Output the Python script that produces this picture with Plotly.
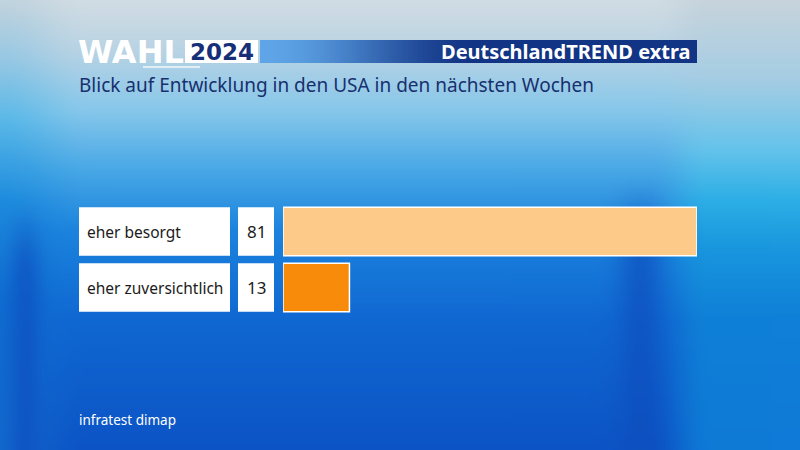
import plotly.graph_objects as go
import zlib, struct, base64, math

# ---------------- data ----------------
categories = ["eher besorgt", "eher zuversichtlich"]
values = [81, 13]
bar_colors = ["#fdca8a", "#f98b0a"]
brand_text = "WAHL"
year_text = "2024"
series_text = "DeutschlandTREND extra"
subtitle_text = "Blick auf Entwicklung in den USA in den nächsten Wochen"
source_text = "infratest dimap"

W, H = 800, 450
FONT = "Noto Sans"
HEAVY = "DejaVu Sans"


# ---------------- background helpers ----------------
def make_png(w, h, fn):
    raw = bytearray()
    for y in range(h):
        raw.append(0)
        for x in range(w):
            r, g, b = fn(x, y)
            raw += bytes((max(0, min(255, int(r))), max(0, min(255, int(g))), max(0, min(255, int(b)))))

    def chunk(t, d):
        c = struct.pack(">I", len(d)) + t + d
        return c + struct.pack(">I", zlib.crc32(t + d) & 0xFFFFFFFF)

    png = (b"\x89PNG\r\n\x1a\n"
           + chunk(b"IHDR", struct.pack(">IIBBBBB", w, h, 8, 2, 0, 0, 0))
           + chunk(b"IDAT", zlib.compress(bytes(raw), 9))
           + chunk(b"IEND", b""))
    return "data:image/png;base64," + base64.b64encode(png).decode()


def prof(p, t):
    if t <= p[0][0]:
        return p[0][1]
    for (t0, c0), (t1, c1) in zip(p[:-1], p[1:]):
        if t <= t1:
            f = (t - t0) / (t1 - t0)
            return tuple(a + (b - a) * f for a, b in zip(c0, c1))
    return p[-1][1]


def smooth(a, b, x):
    t = max(0.0, min(1.0, (x - a) / (b - a)))
    return t * t * (3 - 2 * t)


def mix(c1, c2, f):
    return tuple(a + (b - a) * f for a, b in zip(c1, c2))


center_p = [(0, (210, 221, 227)), (50, (186, 212, 228)), (110, (135, 200, 235)),
            (170, (72, 168, 230)), (230, (28, 132, 222)), (320, (16, 104, 210)), (450, (12, 84, 198))]
right_p = [(0, (200, 212, 220)), (80, (165, 205, 228)), (150, (100, 195, 235)),
           (200, (45, 175, 230)), (250, (25, 150, 222)), (320, (15, 128, 215)), (450, (15, 122, 215))]
left_p = [(0, (195, 212, 222)), (60, (150, 200, 228)), (120, (90, 185, 232)),
          (200, (30, 140, 222)), (300, (15, 110, 210)), (450, (18, 105, 205))]

S = 5


def bg(ix, iy):
    x = ix * S + S / 2
    y = iy * S + S / 2
    c = prof(center_p, y)
    wr = smooth(650, 710, x)
    c = mix(c, prof(right_p, y), wr)
    wl = 1 - smooth(0, 90, x)
    c = mix(c, prof(left_p, y), wl)
    d = math.exp(-((x - 640) / 22) ** 2) * smooth(170, 260, y) * 0.65
    c = mix(c, (14, 78, 190), d)
    d2 = math.exp(-((x - 25) / 16) ** 2) * smooth(190, 280, y) * 0.65
    c = mix(c, (14, 78, 192), d2)
    return c


bg_uri = make_png(W // S, H // S, bg)

header_uri = make_png(88, 1, lambda ix, iy: mix((95, 165, 232), (18, 52, 132), smooth(0, 45, ix)))

# ---------------- figure ----------------
fig = go.Figure()
fig.add_trace(go.Bar(
    x=values, y=categories, orientation="h",
    marker=dict(color=bar_colors, line=dict(color="white", width=1.5)),
    hoverinfo="skip",
))

px = lambda v: v / W
py = lambda v: 1 - v / H

shapes = []
annotations = []
for i, (cat, val) in enumerate(zip(categories, values)):
    shapes.append(dict(type="rect", xref="paper", yref="y", x0=px(79), x1=px(230),
                       y0=i - 0.433, y1=i + 0.433, fillcolor="white", line=dict(width=0), layer="below"))
    shapes.append(dict(type="rect", xref="paper", yref="y", x0=px(238), x1=px(274),
                       y0=i - 0.433, y1=i + 0.433, fillcolor="white", line=dict(width=0), layer="below"))
    annotations.append(dict(text=cat, xref="paper", yref="y", x=px(85), y=i, xanchor="left",
                            yanchor="middle", showarrow=False, font=dict(family=FONT, size=15.5, color="#1b1b1b")))
    annotations.append(dict(text=str(val), xref="paper", yref="y", x=px(256), y=i, xanchor="center",
                            yanchor="middle", showarrow=False, font=dict(family=FONT, size=17, color="#1b1b1b")))

# header
shapes.append(dict(type="rect", xref="paper", yref="paper", x0=px(185), x1=px(258), y0=py(63), y1=py(40),
                   fillcolor="white", line=dict(width=0), layer="below"))
shapes.append(dict(type="line", xref="paper", yref="paper", x0=px(143), x1=px(200), y0=py(67), y1=py(67),
                   line=dict(color="rgba(255,255,255,0.85)", width=1.5)))

annotations += [
    dict(text=f"<b>{brand_text}</b>", xref="paper", yref="paper", x=px(76), y=py(51.5), xanchor="left",
         yanchor="middle", showarrow=False, font=dict(family=HEAVY, size=32, color="white")),
    dict(text=f"<b>{year_text}</b>", xref="paper", yref="paper", x=px(221.5), y=py(52), xanchor="center",
         yanchor="middle", showarrow=False, font=dict(family=HEAVY, size=23, color="#162f78")),
    dict(text=f"<b>{series_text}</b>", xref="paper", yref="paper", x=px(692), y=py(52), xanchor="right",
         yanchor="middle", showarrow=False, font=dict(family=FONT, size=20, color="white")),
    dict(text=subtitle_text, xref="paper", yref="paper", x=px(77), y=py(85), xanchor="left",
         yanchor="middle", showarrow=False, font=dict(family=FONT, size=19, color="#17306e")),
    dict(text=source_text, xref="paper", yref="paper", x=px(77), y=py(420), xanchor="left",
         yanchor="middle", showarrow=False, font=dict(family=FONT, size=13.5, color="white")),
]

images = [
    dict(source=bg_uri, xref="paper", yref="paper", x=0, y=1, sizex=1, sizey=1,
         xanchor="left", yanchor="top", sizing="stretch", layer="below"),
    dict(source=header_uri, xref="paper", yref="paper", x=px(260), y=py(40), sizex=px(697) - px(260),
         sizey=23 / H, xanchor="left", yanchor="top", sizing="stretch", layer="below"),
]

fig.update_layout(
    width=W, height=H, margin=dict(l=0, r=0, t=0, b=0),
    paper_bgcolor="#1a7fd6", plot_bgcolor="rgba(0,0,0,0)",
    showlegend=False, bargap=0.134,
    xaxis=dict(domain=[px(283), px(697)], range=[0, max(values)], visible=False, fixedrange=True),
    yaxis=dict(domain=[py(315.5), py(203.5)], categoryorder="array", categoryarray=categories,
               range=[len(categories) - 0.5, -0.5], visible=False, fixedrange=True),
    shapes=shapes, annotations=annotations, images=images,
)

fig.write_html("out.html", config={"displayModeBar": False})
